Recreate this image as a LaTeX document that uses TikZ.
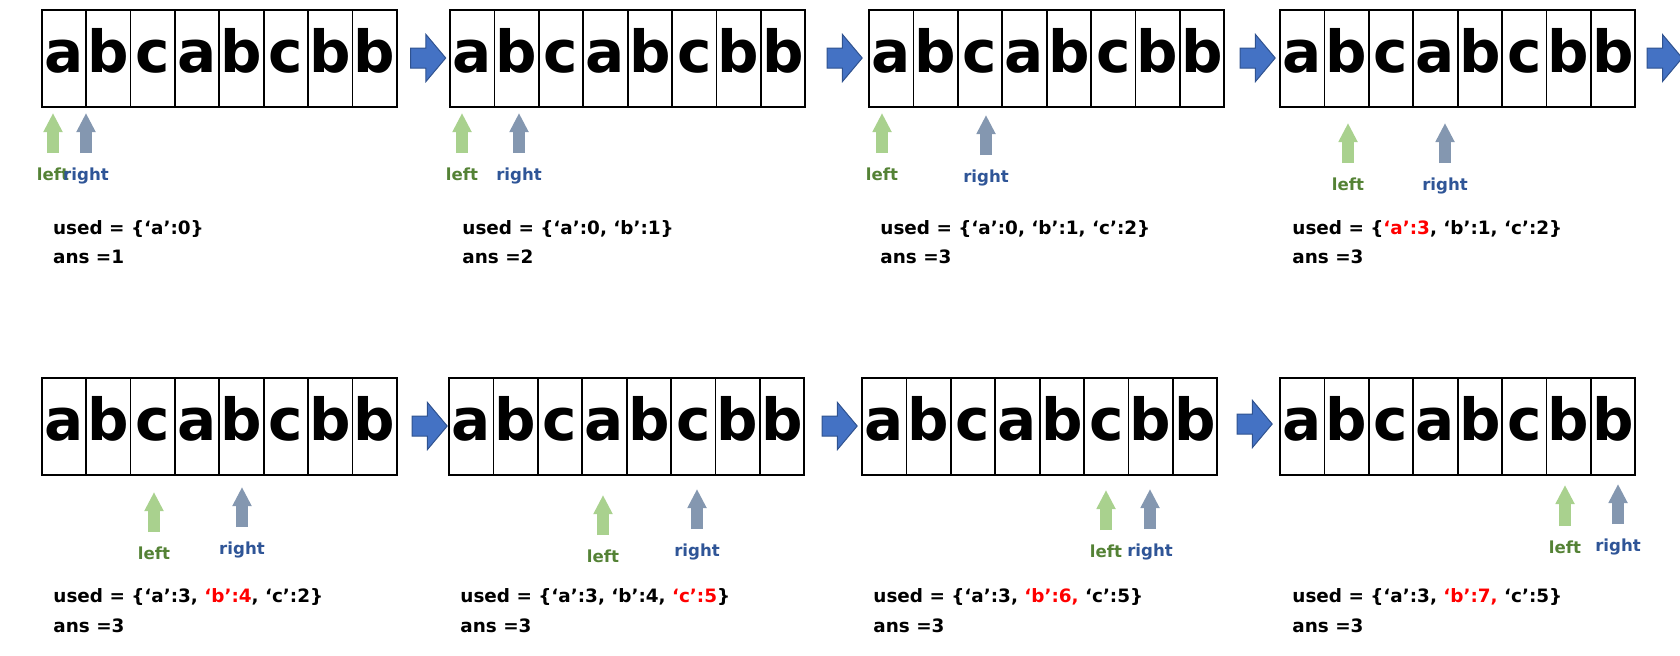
\documentclass[tikz,border=0pt]{standalone}
\usepackage{fontspec}
\setmainfont{DejaVu Sans}
\newfontfamily\cellfont{DejaVu Sans}
\usetikzlibrary{positioning}
\usetikzlibrary{shapes.arrows}
\usetikzlibrary{arrows.meta}
\definecolor{leftarrow}{HTML}{A9D18E}
\definecolor{rightarrow}{HTML}{8497B0}
\definecolor{lefttext}{HTML}{548235}
\definecolor{righttext}{HTML}{2F5597}
\definecolor{stepfill}{HTML}{4472C4}
\definecolor{stepline}{HTML}{2F528F}
\tikzset{
    cell/.style = {rectangle, draw, line width=0.9pt, minimum width=22.2pt,
        minimum height=48.5pt, inner sep=0pt, text height=19.5pt, text depth=6pt,
        font=\cellfont\bfseries\fontsize{29pt}{29pt}\selectfont},
    nextstep/.style = {single arrow, draw=stepline, fill=stepfill, line width=0.5pt,
        minimum height=17.5pt, inner xsep=0pt, inner ysep=4.75pt,
        text height=0pt, text depth=0pt, text width=0pt,
        single arrow head extend=6.75pt, single arrow tip angle=100},
    pointer/.style = {line width=6pt, -{Triangle[width=9pt,length=9.5pt]}},
    info/.style = {anchor=base west, inner sep=0pt,
        font=\bfseries\fontsize{9.2pt}{9.2pt}\selectfont}}

\begin{document}
\begin{tikzpicture}[x=0.5pt, y=-0.5pt,
    lbl/.style = {anchor=base, inner sep=0pt, font=\bfseries\fontsize{8.3pt}{8.3pt}\selectfont}
    ]
    \useasboundingbox (0,0) rectangle (1680,655);
    % the eight copies of the string
    \foreach \p/\px/\py in {1/41.7/10, 2/450/10, 3/869/10, 4/1280/10,
                            5/41.7/378, 6/449/378, 7/862/378, 8/1280/378}
        \foreach \ch [count=\k from 0] in {a,b,c,a,b,c,b,b}
            \node[cell] (p\p-\k) at (\px+22.2+\k*44.4, \py+48.5) {\ch};
    % steps
    \node[nextstep] (s1) at (424,58) {};
    \node[nextstep] (s2) at (840.5,58) {};
    \node[nextstep] (s3) at (1253.5,58) {};
    \node[nextstep] (s4) at (1660.5,58) {};
    \node[nextstep] (s5) at (425.5,426) {};
    \node[nextstep] (s6) at (835.5,426) {};
    \node[nextstep] (s7) at (1250.5,424) {};
    % left and right pointers
    \foreach \n/\lx/\ltip/\ltail/\rx/\rtip/\rtail in {1/53/113/153/86/113/153,
            2/462/113/153/519/113/153, 3/882/113/153/986/115/155,
            4/1348/123/163/1445/123/163, 5/154/492/532/242/487/527,
            6/603/495/535/697/489/529, 7/1106/490/530/1150/489/529,
            8/1565/485/526/1618/484/524} {
        \coordinate (lt\n) at (\lx,\ltail);
        \coordinate (lh\n) at (\lx,\ltip);
        \coordinate (rt\n) at (\rx,\rtail);
        \coordinate (rh\n) at (\rx,\rtip);
        \draw[pointer, leftarrow] (lt\n) -- (lh\n);
        \draw[pointer, rightarrow] (rt\n) -- (rh\n);
        \node[lbl, text=lefttext] (ll\n) at ([yshift=-13.5pt]lt\n) {left};
        \node[lbl, text=righttext] (rl\n) at ([yshift=-13.5pt]rt\n) {right};
    }
    % state after each step
    \node[info] (used1) at (52.7,234) {used = \{`a':0\}};
    \node[info] (used2) at (462,234) {used = \{`a':0, `b':1\}};
    \node[info] (used3) at (880,234) {used = \{`a':0, `b':1, `c':2\}};
    \node[info] (used4) at (1292,234) {used = \{{\color{red}`a':3}, `b':1, `c':2\}};
    \node[info] (used5) at (53,602) {used = \{`a':3, {\color{red}`b':4}, `c':2\}};
    \node[info] (used6) at (460,602) {used = \{`a':3, `b':4, {\color{red}`c':5}\}};
    \node[info] (used7) at (873,602) {used = \{`a':3, {\color{red}`b':6,} `c':5\}};
    \node[info] (used8) at (1292,602) {used = \{`a':3, {\color{red}`b':7,} `c':5\}};
    \node[info] (ans1) at ([yshift=-14.5pt]used1.base west) {ans =1};
    \node[info] (ans2) at ([yshift=-14.5pt]used2.base west) {ans =2};
    \node[info] (ans3) at ([yshift=-14.5pt]used3.base west) {ans =3};
    \node[info] (ans4) at ([yshift=-14.5pt]used4.base west) {ans =3};
    \node[info] (ans5) at ([yshift=-15pt]used5.base west) {ans =3};
    \node[info] (ans6) at ([yshift=-15pt]used6.base west) {ans =3};
    \node[info] (ans7) at ([yshift=-15pt]used7.base west) {ans =3};
    \node[info] (ans8) at ([yshift=-15pt]used8.base west) {ans =3};
\end{tikzpicture}
\end{document}
